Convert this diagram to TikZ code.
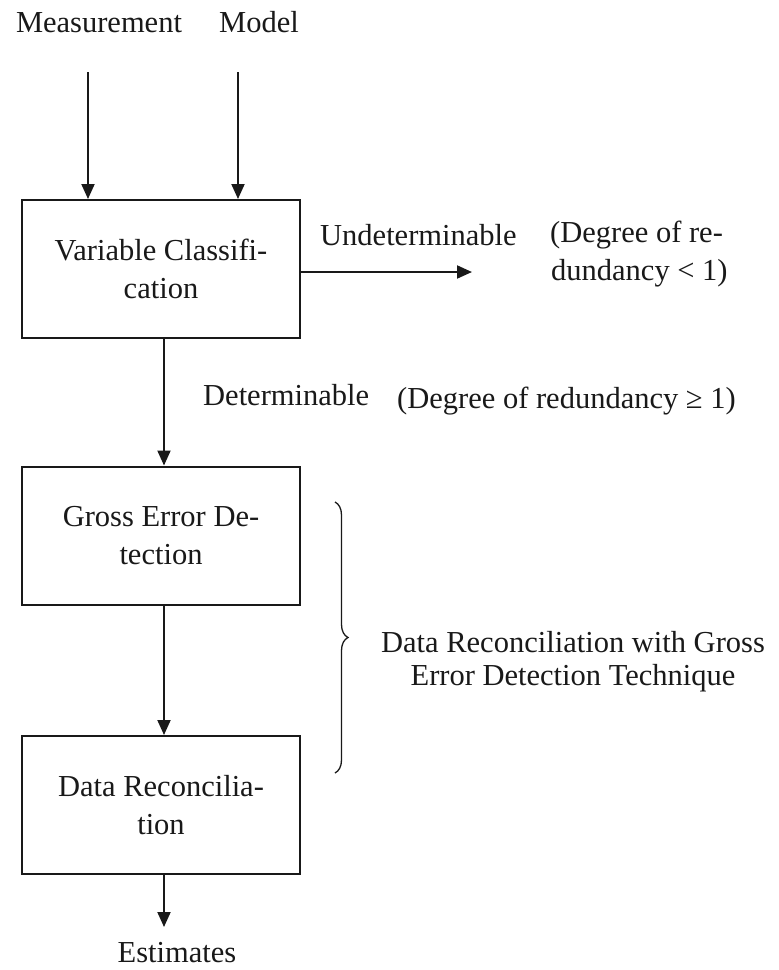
\documentclass[tikz,border=0pt]{standalone}
\usepackage{fontspec}
\setmainfont{Liberation Serif}
\usetikzlibrary{arrows.meta,decorations.pathreplacing}

\tikzset{
  txt/.style={font=\fontsize{30.5}{38}\selectfont, inner sep=0pt, text=black!90},
  stepbox/.style={draw=black!90, line width=2pt, minimum width=278pt, minimum height=138pt,
                  inner sep=0pt, align=center, font=\fontsize{30.5}{38}\selectfont, text=black!90},
  flow/.style={draw=black!90, line width=2pt, -{Triangle[length=15pt,width=13pt]}},
  bracestyle/.style={draw=black!90, line width=1.3pt, decorate,
                     decoration={brace, amplitude=13pt}}
}

\begin{document}
\begin{tikzpicture}[x=1pt, y=-1pt]
  \useasboundingbox (0,0) rectangle (779,970);

  % inputs
  \node[txt, anchor=base] (meas)  at (99,32)  {Measurement};
  \node[txt, anchor=base] (model) at (259,32) {Model};
  \coordinate (measin)  at (88,72);
  \coordinate (modelin) at (238,72);

  % processing steps
  \node[stepbox] (classify) at (161,269)   {Variable Classifi-\\cation};
  \node[stepbox] (gross)    at (161,535.5) {Gross Error De-\\tection};
  \node[stepbox] (recon)    at (161,805)   {Data Reconcilia-\\tion};

  \draw[flow] (measin)  -- (measin |- classify.north);
  \draw[flow] (modelin) -- (modelin |- classify.north);

  % undeterminable branch
  \coordinate (undstart) at (300,272);
  \coordinate (undend)   at (472,272);
  \draw[flow] (undstart) -- (undend);
  \node[txt, anchor=base west] (undlabel) at (320,245) {Undeterminable};
  \node[txt, anchor=base west, align=left] (undnote) at (550,280)
       {(Degree of re-\\\hspace*{1pt}dundancy < 1)};

  % determinable branch
  \coordinate (mainx) at (164,0);
  \draw[flow] (mainx |- classify.south) -- (mainx |- gross.north);
  \node[txt, anchor=base west] (detlabel) at (203,405) {Determinable};
  \node[txt, anchor=base west] (detnote)  at (397,408) {(Degree of redundancy ≥ 1)};

  \draw[flow] (mainx |- gross.south) -- (mainx |- recon.north);

  % output
  \coordinate (estend) at (164,927);
  \draw[flow] (mainx |- recon.south) -- (estend);
  \node[txt, anchor=base] (est) at (177,962) {Estimates};

  % grouping brace
  \coordinate (bracetop) at (335,502);
  \coordinate (bracebot) at (335,773);
  \draw[bracestyle] (bracetop) -- (bracebot);
  \node[txt, anchor=base, align=center, font=\fontsize{30.5}{33}\selectfont] (bracelabel) at (573,685)
       {Data Reconciliation with Gross\\Error Detection Technique};
\end{tikzpicture}
\end{document}
